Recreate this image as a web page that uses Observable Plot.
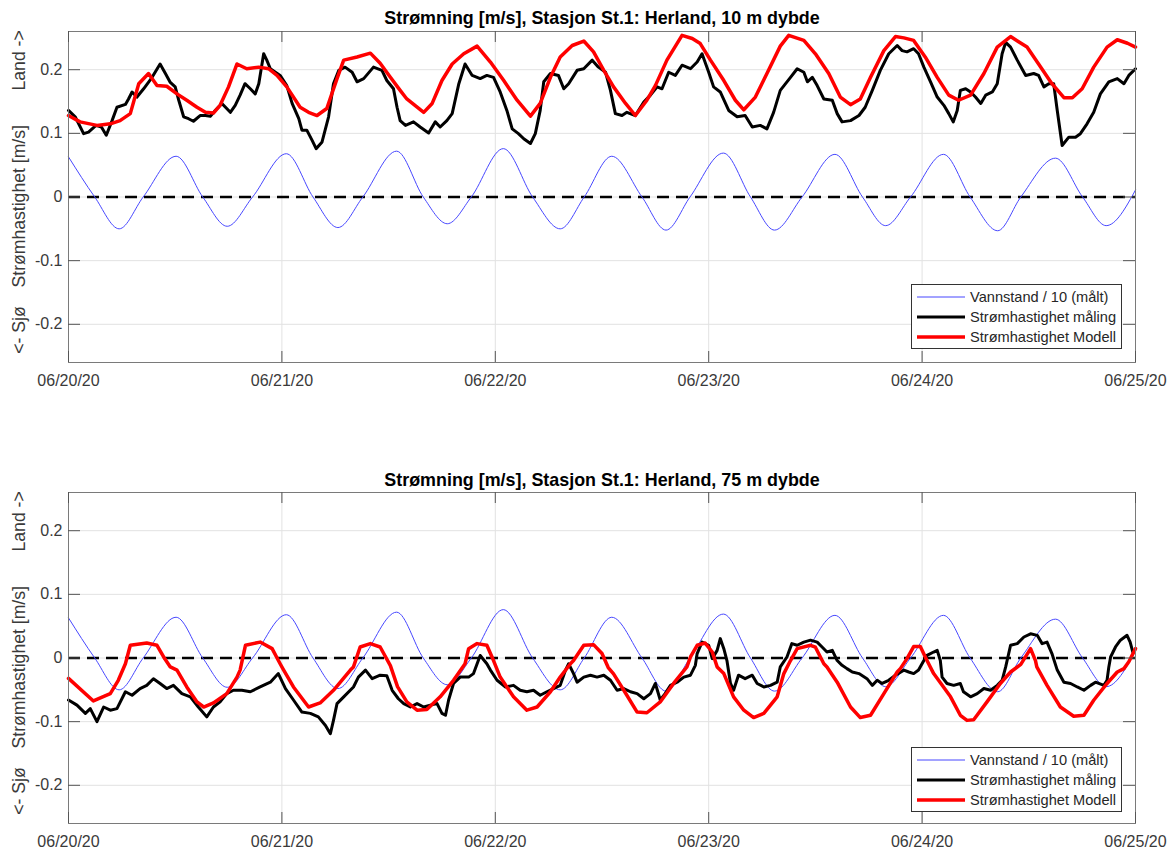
<!DOCTYPE html>
<html>
<head>
<meta charset="utf-8">
<script src="https://cdn.jsdelivr.net/npm/d3@7"></script>
<script src="https://cdn.jsdelivr.net/npm/@observablehq/plot@0.6"></script>
<style>
  body { margin: 0; background: #fff; font-family: "Liberation Sans", Arial, Helvetica, sans-serif; }
  #wrap { position: relative; width: 1172px; height: 850px; overflow: hidden; }
  #wrap svg { display: block; }
  .legend { position: absolute; left: 911px; width: 211px; height: 65px; box-sizing: border-box;
            border: 1px solid #333; background: #fff; font-size: 14.6px; color: #262626; }
  .legend .row { position: absolute; left: 0; height: 18px; width: 100%; }
  .legend .row svg { position: absolute; left: 4px; top: 0; }
  .legend .row span { position: absolute; left: 58px; top: 0; line-height: 18px; white-space: nowrap; }
</style>
</head>
<body>
<div id="wrap"></div>
<script>
// Time axis: hours after 2020-06-20 00:00 (UTC)
const startDate = Date.UTC(2020, 5, 20);
const dayTicks = ["2020-06-20", "2020-06-21", "2020-06-22", "2020-06-23", "2020-06-24", "2020-06-25"];
const yTicks = [-0.2, -0.1, 0, 0.1, 0.2];
const yDomain = [-0.26, 0.26];

const seriesNames = ["Vannstand / 10 (målt)", "Strømhastighet måling", "Strømhastighet Modell"];
const titles = [
  "Strømning [m/s], Stasjon St.1: Herland, 10 m dybde",
  "Strømning [m/s], Stasjon St.1: Herland, 75 m dybde"
];
const yLabelParts = [
  {text: "Land ->", at: 0.2146},
  {text: "Strømhastighet [m/s]", at: -0.0146},
  {text: "<- Sjø", at: -0.209}
];

// Water level / 10 (measured) – [hour, value]
const waterLevel = [
  [0, 0.063], [2.95, 0], [5.7, -0.050], [8.4, 0], [12.1, 0.064], [15.1, 0], [17.85, -0.046],
  [20.7, 0], [24.5, 0.068], [27.5, 0], [30.3, -0.048], [33.1, 0], [36.9, 0.072], [39.9, 0],
  [42.6, -0.042], [45.3, 0], [48.9, 0.076], [52.2, 0], [55.3, -0.050], [58.0, 0], [61.1, 0.064],
  [64.5, 0], [67.2, -0.052], [69.9, 0], [73.65, 0.069], [76.7, 0], [79.4, -0.052], [82.5, 0],
  [86.2, 0.067], [89.3, 0], [91.9, -0.045], [94.7, 0], [98.4, 0.067], [101.4, 0], [104.5, -0.053],
  [107.1, 0], [111.0, 0.061], [114.05, 0], [116.7, -0.045], [120, 0.011]
];

// 10 m depth – measured current speed
const measured10 = [
  [0, 0.136], [0.75, 0.126], [1.7, 0.0995], [2.25, 0.102], [3.1, 0.1125], [3.7, 0.11], [4.25, 0.097],
  [4.9, 0.12], [5.45, 0.141], [6.4, 0.1455], [6.75, 0.154], [7.15, 0.165], [7.7, 0.157], [8.45, 0.170],
  [9.4, 0.188], [10.3, 0.209], [10.9, 0.194], [11.45, 0.18], [12.0, 0.173], [12.4, 0.152], [12.95, 0.126],
  [13.5, 0.123], [14.05, 0.119], [14.8, 0.128], [15.4, 0.128], [15.95, 0.127], [16.5, 0.136], [17.25, 0.147],
  [18.2, 0.133], [18.75, 0.144], [19.3, 0.16], [19.85, 0.178], [20.45, 0.17], [21.0, 0.162], [21.4, 0.178],
  [21.95, 0.225], [22.3, 0.215], [22.7, 0.2015], [23.8, 0.191], [24.55, 0.175], [25.15, 0.147], [25.9, 0.123],
  [26.25, 0.105], [26.8, 0.105], [27.4, 0.089], [27.85, 0.076], [28.5, 0.086], [29.25, 0.126], [29.8, 0.178],
  [30.4, 0.199], [31.1, 0.204], [31.9, 0.196], [32.45, 0.181], [33.2, 0.186], [34.3, 0.204], [35.25, 0.199],
  [35.8, 0.183], [36.55, 0.17], [36.95, 0.141], [37.3, 0.12], [37.9, 0.1125], [38.8, 0.118], [39.55, 0.11],
  [40.5, 0.1005], [41.25, 0.118], [41.8, 0.11], [42.55, 0.12], [43.15, 0.131], [43.9, 0.178], [44.6, 0.209],
  [45.4, 0.191], [46.3, 0.186], [47.05, 0.191], [47.8, 0.188], [48.55, 0.165], [49.3, 0.136], [49.9, 0.107],
  [50.6, 0.0995], [51.2, 0.0915], [51.95, 0.084], [52.5, 0.0995], [53.05, 0.136], [53.45, 0.181], [54.2, 0.194],
  [55.1, 0.191], [55.7, 0.17], [56.25, 0.178], [57.2, 0.199], [57.95, 0.2015], [58.9, 0.215], [59.6, 0.204],
  [60.4, 0.196], [60.95, 0.1675], [61.5, 0.131], [62.25, 0.128], [62.8, 0.133], [63.75, 0.128], [64.7, 0.149],
  [65.45, 0.16], [66.2, 0.173], [66.75, 0.17], [67.5, 0.196], [68.25, 0.191], [69.0, 0.207], [69.95, 0.2015],
  [70.7, 0.212], [71.25, 0.225], [72.0, 0.196], [72.55, 0.173], [73.3, 0.165], [74.25, 0.136], [75.2, 0.126],
  [76.1, 0.128], [76.9, 0.11], [77.8, 0.1125], [78.55, 0.107], [79.3, 0.133], [80.05, 0.1675], [81.2, 0.188],
  [81.95, 0.2015], [82.7, 0.196], [83.1, 0.181], [83.65, 0.188], [84.2, 0.175], [84.95, 0.154], [85.9, 0.152],
  [86.45, 0.131], [87.0, 0.118], [87.95, 0.12], [88.9, 0.128], [89.6, 0.141], [90.4, 0.1675], [91.3, 0.199],
  [92.25, 0.225], [93.2, 0.238], [93.75, 0.23], [94.3, 0.228], [95.05, 0.233], [95.6, 0.225], [96.2, 0.204],
  [96.95, 0.181], [97.7, 0.157], [98.45, 0.144], [99.0, 0.131], [99.5, 0.118], [99.95, 0.136], [100.3, 0.1675],
  [100.9, 0.17], [101.45, 0.165], [102.0, 0.157], [102.6, 0.147], [103.15, 0.16], [103.9, 0.165], [104.45, 0.178],
  [105.0, 0.225], [105.4, 0.243], [105.95, 0.2355], [106.7, 0.215], [107.65, 0.191], [108.55, 0.194],
  [109.1, 0.191], [109.7, 0.173], [110.25, 0.178], [110.8, 0.178], [111.2, 0.136], [111.75, 0.081],
  [112.5, 0.094], [113.25, 0.094], [113.8, 0.0995], [114.55, 0.115], [115.3, 0.133], [116.05, 0.162],
  [117.0, 0.181], [117.95, 0.186], [118.7, 0.178], [119.25, 0.191], [120, 0.2015]
];

// 10 m depth – model current speed
const model10 = [
  [0, 0.128], [1.3, 0.118], [3.2, 0.1125], [4.7, 0.115], [5.8, 0.12], [6.95, 0.131], [7.9, 0.178], [9.0, 0.194],
  [9.95, 0.175], [11.05, 0.174], [12.2, 0.162], [13.3, 0.152], [14.45, 0.141], [15.4, 0.133], [16.3, 0.132],
  [17.05, 0.144], [18.0, 0.173], [18.95, 0.209], [20.05, 0.2015], [21.4, 0.204], [22.5, 0.2015], [23.45, 0.191],
  [24.55, 0.173], [26.05, 0.141], [27.0, 0.133], [27.95, 0.128], [29.05, 0.139], [30.2, 0.186], [30.95, 0.215],
  [32.45, 0.22], [33.95, 0.226], [35.05, 0.21], [36.2, 0.188], [37.3, 0.1675], [38.05, 0.154], [39.95, 0.133],
  [40.9, 0.147], [42.0, 0.183], [43.15, 0.209], [44.45, 0.225], [45.95, 0.237], [47.45, 0.212], [48.95, 0.183],
  [50.45, 0.152], [51.95, 0.127], [53.05, 0.147], [54.2, 0.188], [55.3, 0.22], [56.65, 0.238], [57.95, 0.245],
  [59.05, 0.228], [60.2, 0.199], [61.3, 0.173], [62.65, 0.147], [63.75, 0.128], [65.05, 0.152], [66.0, 0.175],
  [67.3, 0.215], [69.0, 0.254], [70.15, 0.249], [71.05, 0.241], [72.2, 0.215], [73.7, 0.183], [75.0, 0.152],
  [75.95, 0.137], [77.25, 0.157], [78.55, 0.194], [80.05, 0.237], [81.0, 0.254], [82.7, 0.246], [84.0, 0.225],
  [85.5, 0.194], [86.8, 0.157], [87.95, 0.145], [89.05, 0.154], [90.2, 0.188], [91.7, 0.23], [93.0, 0.252],
  [93.95, 0.25], [95.05, 0.246], [96.35, 0.22], [97.7, 0.188], [99.0, 0.16], [100.1, 0.152], [101.45, 0.16],
  [102.95, 0.194], [104.45, 0.2355], [105.95, 0.252], [107.8, 0.2355], [109.1, 0.209], [110.6, 0.178],
  [111.95, 0.156], [112.9, 0.156], [114.0, 0.17], [115.3, 0.204], [116.8, 0.2355], [117.95, 0.247],
  [119.1, 0.2415], [120, 0.2355]
];

// 75 m depth – measured current speed
const measured75 = [
  [0, -0.066], [0.95, -0.074], [1.9, -0.087], [2.45, -0.0795], [3.2, -0.100], [3.95, -0.077], [4.7, -0.082],
  [5.45, -0.0795], [6.4, -0.053], [7.15, -0.0585], [8.05, -0.048], [8.8, -0.043], [9.55, -0.0325], [10.3, -0.040],
  [11.05, -0.048], [11.8, -0.043], [12.75, -0.056], [13.7, -0.061], [14.6, -0.077], [15.55, -0.0925],
  [16.3, -0.077], [17.05, -0.069], [17.8, -0.056], [18.55, -0.0507], [19.5, -0.0507], [20.45, -0.053],
  [21.55, -0.0455], [22.7, -0.038], [23.6, -0.0245], [24.4, -0.048], [25.3, -0.066], [26.25, -0.085],
  [27.2, -0.087], [28.1, -0.0925], [28.9, -0.106], [29.45, -0.119], [29.8, -0.098], [30.2, -0.0716],
  [30.95, -0.061], [32.05, -0.0455], [32.6, -0.030], [33.4, -0.019], [34.15, -0.0325], [35.05, -0.027],
  [35.8, -0.028], [36.4, -0.0507], [37.1, -0.064], [37.7, -0.0716], [38.45, -0.077], [39.2, -0.0716],
  [39.95, -0.077], [40.7, -0.074], [41.45, -0.0716], [42.0, -0.087], [42.4, -0.090], [42.75, -0.066],
  [43.3, -0.040], [44.05, -0.030], [45.0, -0.030], [45.55, -0.0245], [46.3, 0.004], [47.05, -0.009],
  [47.45, -0.019], [48.2, -0.035], [49.15, -0.0455], [50.05, -0.043], [50.8, -0.0507], [51.55, -0.053],
  [52.3, -0.0507], [53.05, -0.0585], [53.8, -0.053], [54.55, -0.048], [55.3, -0.043], [55.9, -0.019],
  [56.25, -0.009], [56.8, -0.0245], [57.2, -0.038], [57.95, -0.030], [58.7, -0.027], [59.45, -0.030],
  [60.2, -0.027], [60.95, -0.035], [61.7, -0.0507], [62.45, -0.048], [63.2, -0.053], [63.95, -0.056],
  [64.7, -0.064], [65.45, -0.056], [66.0, -0.040], [66.55, -0.066], [67.1, -0.056], [67.7, -0.043],
  [68.45, -0.038], [69.2, -0.030], [69.95, -0.027], [70.5, -0.0115], [70.7, 0.007], [71.25, 0.025],
  [72.0, 0.020], [72.4, -0.001], [72.95, 0.012], [73.3, 0.0305], [73.7, 0.0147], [74.05, -0.004],
  [74.45, -0.040], [74.8, -0.0507], [75.35, -0.027], [76.1, -0.0325], [76.9, -0.027], [77.45, -0.040],
  [78.2, -0.0455], [78.95, -0.043], [79.7, -0.038], [80.05, -0.014], [80.8, 0.0016], [81.35, 0.0226],
  [81.95, 0.020], [82.7, 0.025], [83.45, 0.028], [84.2, 0.025], [84.75, 0.0173], [85.3, 0.0094],
  [85.9, 0.012], [86.45, -0.004], [87.0, -0.0115], [87.55, -0.0167], [88.15, -0.022], [88.9, -0.0245],
  [89.8, -0.0325], [90.4, -0.043], [90.95, -0.035], [91.5, -0.040], [92.25, -0.035], [93.0, -0.027],
  [93.95, -0.019], [94.5, -0.022], [95.05, -0.0245], [95.6, -0.019], [96.2, -0.004], [96.55, 0.004],
  [97.3, 0.0094], [97.7, 0.012], [98.05, -0.004], [98.25, -0.030], [98.8, -0.040], [99.55, -0.043],
  [100.3, -0.040], [100.65, -0.053], [101.45, -0.061], [102.2, -0.056], [102.95, -0.048], [103.7, -0.0507],
  [104.45, -0.043], [105.0, -0.035], [105.4, -0.014], [105.95, 0.020], [106.7, 0.0226], [107.45, 0.033],
  [108.2, 0.038], [108.95, 0.0356], [109.5, 0.0226], [110.05, 0.025], [110.6, 0.007], [111.2, -0.019],
  [111.95, -0.038], [112.7, -0.040], [113.45, -0.0455], [114.2, -0.0507], [114.95, -0.043], [115.5, -0.038],
  [116.45, -0.043], [116.8, -0.035], [117.0, -0.014], [117.2, 0.0016], [117.75, 0.0173], [118.3, 0.028],
  [119.05, 0.0356], [119.4, 0.025], [119.7, 0.0094]
];

// 75 m depth – model current speed
const model75 = [
  [0, -0.032], [2.8, -0.0675], [4.7, -0.056], [5.6, -0.035], [6.4, -0.009], [6.95, 0.020], [8.8, 0.0235],
  [9.95, 0.020], [10.7, 0.0016], [11.45, -0.014], [12.2, -0.019], [13.3, -0.0455], [14.45, -0.069],
  [15.2, -0.077], [16.3, -0.0706], [17.8, -0.056], [18.95, -0.030], [19.3, -0.019], [19.9, 0.020],
  [21.55, 0.025], [22.9, 0.0147], [23.8, -0.009], [24.2, -0.019], [25.3, -0.0455], [27.0, -0.077],
  [28.3, -0.0706], [29.8, -0.0507], [31.7, -0.019], [32.05, -0.014], [32.8, 0.0173], [33.95, 0.0226],
  [35.05, 0.0173], [36.2, -0.012], [37.0, -0.045], [38.05, -0.069], [39.2, -0.082], [40.3, -0.081],
  [41.8, -0.061], [43.3, -0.035], [44.6, -0.009], [45.0, 0.0147], [45.95, 0.0226], [47.05, 0.020],
  [47.8, -0.004], [48.55, -0.030], [50.05, -0.061], [51.55, -0.082], [52.7, -0.077], [54.2, -0.053],
  [55.3, -0.030], [56.45, -0.009], [56.8, -0.004], [57.95, 0.020], [59.05, 0.021], [60.0, 0.007],
  [60.7, -0.015], [61.3, -0.025], [62.45, -0.0507], [63.95, -0.085], [65.05, -0.086], [66.55, -0.069],
  [68.05, -0.040], [69.55, -0.014], [69.95, 0.0016], [70.7, 0.020], [71.6, 0.0235], [72.4, 0.0094],
  [72.95, -0.014], [73.7, -0.0245], [74.8, -0.061], [75.95, -0.082], [77.05, -0.0936], [78.2, -0.087],
  [79.7, -0.061], [80.45, -0.0245], [81.2, -0.004], [81.95, 0.0147], [83.45, 0.020], [84.0, 0.017],
  [84.95, -0.009], [85.3, -0.014], [86.45, -0.038], [87.95, -0.077], [89.05, -0.0936], [90.2, -0.090],
  [91.7, -0.056], [93.2, -0.022], [93.55, -0.0167], [94.3, -0.001], [95.05, 0.018], [95.8, 0.018],
  [96.55, -0.004], [97.3, -0.0245], [99.2, -0.061], [100.3, -0.090], [101.05, -0.098], [101.8, -0.097],
  [103.3, -0.069], [104.8, -0.040], [105.95, -0.022], [107.1, -0.010], [108.2, 0.0147], [108.75, -0.004],
  [108.9, -0.014], [110.05, -0.043], [111.55, -0.077], [113.05, -0.0915], [114.2, -0.090], [115.3, -0.0664],
  [116.8, -0.040], [117.95, -0.022], [118.7, -0.0167], [119.25, -0.006], [120, 0.0147]
];

const colors = ["#4747ff", "#000000", "#ff0000"];
const widths = [1, 3, 3.5];

const toDate = h => new Date(startDate + h * 3600e3);
const rows = arr => arr.map(([h, v]) => ({t: toDate(h), v}));
const dayDates = dayTicks.map(d => new Date(d + "T00:00:00Z"));
const fmtY = d => (d === 0 ? "0" : String(d));
const fmtX = d3.utcFormat("%m/%d/%y");

const W = 1172, ML = 68, MR = 37;
const font = '"Liberation Sans", Arial, Helvetica, sans-serif';

function panel({title, meas, model, height, marginTop, marginBottom, titleDy}) {
  const frameH = height - marginTop - marginBottom;
  const frameW = W - ML - MR;
  const tick = {stroke: "#555", strokeWidth: 1};
  return Plot.plot({
    width: W, height, marginLeft: ML, marginRight: MR, marginTop, marginBottom,
    style: {fontFamily: font, fontSize: "16px", color: "#3a3a3a", background: "white", overflow: "visible"},
    x: {type: "utc", domain: [dayDates[0], dayDates[dayDates.length - 1]]},
    y: {domain: yDomain},
    marks: [
      Plot.gridX(dayDates, {stroke: "#e2e2e2", strokeOpacity: 1}),
      Plot.gridY(yTicks, {stroke: "#e2e2e2", strokeOpacity: 1}),
      Plot.ruleY([0], {stroke: "black", strokeWidth: 2.5, strokeDasharray: "12,7"}),
      Plot.line(rows(waterLevel), {x: "t", y: "v", stroke: colors[0], strokeWidth: widths[0], curve: "monotone-x"}),
      Plot.line(rows(meas), {x: "t", y: "v", stroke: colors[1], strokeWidth: widths[1]}),
      Plot.line(rows(model), {x: "t", y: "v", stroke: colors[2], strokeWidth: widths[2]}),
      Plot.frame({stroke: "#7a7a7a"}),
      Plot.tickX(dayDates, {x: d => d, insetTop: frameH - 11, ...tick}),
      Plot.tickX(dayDates, {x: d => d, insetBottom: frameH - 11, ...tick}),
      Plot.tickY(yTicks, {y: d => d, insetRight: frameW - 12, ...tick}),
      Plot.tickY(yTicks, {y: d => d, insetLeft: frameW - 12, ...tick}),
      Plot.axisX(dayDates, {tickSize: 0, tickPadding: 12, tickFormat: fmtX, label: null}),
      Plot.axisY(yTicks, {tickSize: 0, tickPadding: 6, tickFormat: fmtY, label: null}),
      Plot.text(yLabelParts, {y: "at", text: "text", frameAnchor: "left", dx: -49, rotate: -90,
        textAnchor: "middle", lineAnchor: "middle", fontSize: 17.6, fill: "#3a3a3a"}),
      Plot.text([title], {frameAnchor: "top", dy: titleDy, text: d => d, fontWeight: "bold",
        fontSize: 17.9, fill: "#000", lineAnchor: "middle"})
    ]
  });
}

function legend(top) {
  const box = document.createElement("div");
  box.className = "legend";
  box.style.top = top + "px";
  const centers = [12, 32, 51.5];
  seriesNames.forEach((name, i) => {
    const row = document.createElement("div");
    row.className = "row";
    row.style.top = (centers[i] - 9) + "px";
    row.innerHTML = `<svg width="50" height="18"><line x1="1" x2="49" y1="9" y2="9" stroke="${colors[i]}" stroke-width="${widths[i]}"/></svg><span>${name}</span>`;
    box.appendChild(row);
  });
  return box;
}

const wrap = document.getElementById("wrap");
wrap.appendChild(panel({title: titles[0], meas: measured10, model: model10, height: 420,
  marginTop: 31, marginBottom: 58, titleDy: -13}));
wrap.appendChild(panel({title: titles[1], meas: measured75, model: model75, height: 430,
  marginTop: 72, marginBottom: 27, titleDy: -12}));
wrap.appendChild(legend(284));
wrap.appendChild(legend(747));
</script>
</body>
</html>
